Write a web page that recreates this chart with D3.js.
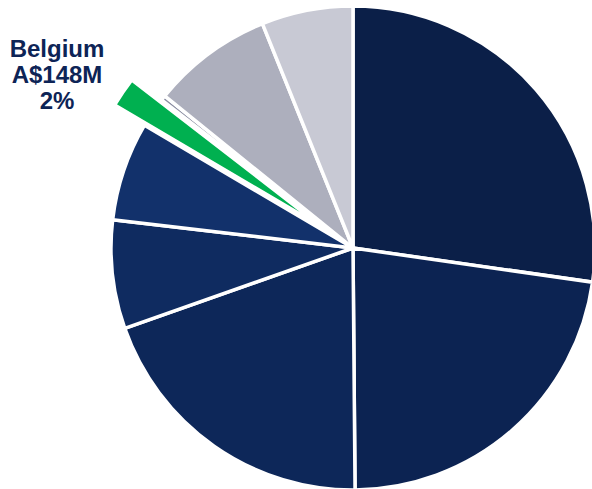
<!DOCTYPE html>
<html>
<head>
<meta charset="utf-8">
<script src="https://cdn.jsdelivr.net/npm/d3@7"></script>
<style>
  html, body { margin: 0; padding: 0; background: #fff; }
  svg { display: block; }
</style>
</head>
<body>
<svg></svg>
<script>
// segments clockwise from 12 o'clock, values in A$M
const categories = ['Segment 1', 'Segment 2', 'Segment 3', 'Segment 4', 'Segment 5', 'Belgium', 'Segment 7', 'Segment 8', 'Segment 9']
const values = [2017, 1673, 1461, 537, 489, 148, 25, 598, 452]
const colors = ['#0b1f48', '#0c2352', '#0d2759', '#0f2b60', '#12316b', '#00b050', '#8c8fa3', '#adafbd', '#c8c9d4']
const highlight = 'Belgium'
const labelLines = ['Belgium', 'A$148M', '2%']

const width = 592
const height = 489
const radius = 242
const cx = 353
const cy = 248
const explode = 36

const svg = d3.select('svg').attr('width', width).attr('height', height)
const g = svg.append('g').attr('transform', `translate(${cx}, ${cy})`)

const pie = d3.pie().sort(null).value(d => d.value)
const arc = d3.arc().innerRadius(0).outerRadius(radius)

const data = categories.map((c, i) => ({name: c, value: values[i], color: colors[i]}))
const pieData = pie(data)

g.selectAll('path').data(pieData).enter().append('path')
    .attr('d', arc)
    .attr('fill', d => d.data.color)
    .attr('stroke', '#fff')
    .attr('stroke-width', 3.5)
    .attr('stroke-linejoin', 'round')
    .attr('transform', function (d) {
        if (d.data.name !== highlight) return null
        const a = (d.startAngle + d.endAngle) / 2
        return `translate(${Math.sin(a) * explode}, ${-Math.cos(a) * explode})`
    })

// label for the highlighted slice
const label = svg.append('text')
    .attr('x', 57)
    .attr('y', 57)
    .attr('text-anchor', 'middle')
    .attr('font-family', 'Liberation Sans, Arial, sans-serif')
    .attr('font-weight', 'bold')
    .attr('font-size', 24)
    .attr('fill', '#0d2456')
label.selectAll('tspan').data(labelLines).enter().append('tspan')
    .attr('x', 57)
    .attr('dy', (d, i) => i === 0 ? 0 : 26)
    .text(d => d)
</script>
</body>
</html>
